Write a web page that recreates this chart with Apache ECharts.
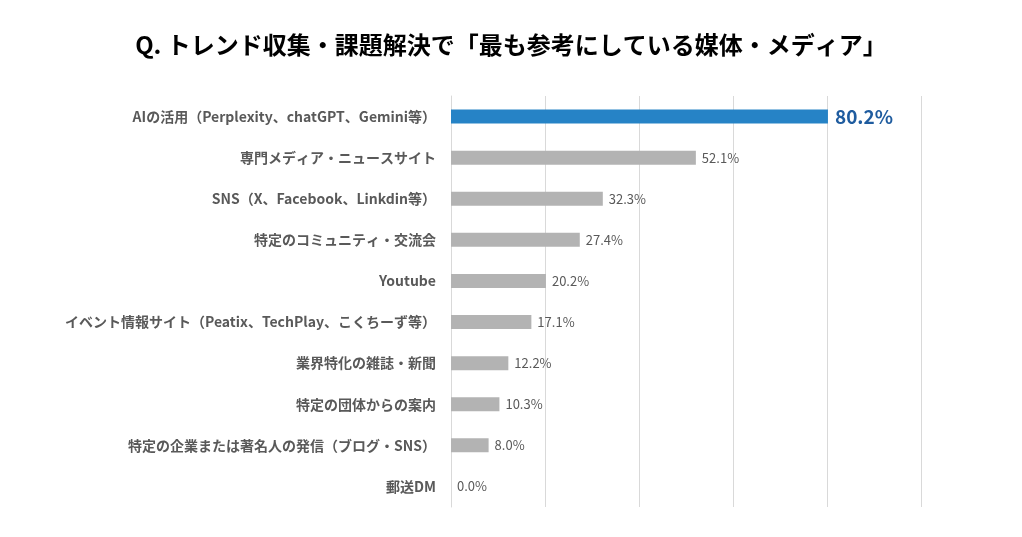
<!DOCTYPE html>
<html>
<head>
<meta charset="utf-8">
<script src="https://cdn.jsdelivr.net/npm/echarts@6/dist/echarts.min.js"></script>
<style>
	html, body { margin: 0; padding: 0; background: #fff; }
	#chart { width: 1022px; height: 537px; }
</style>
</head>
<body>
<div id="chart"></div>
<script type="text/javascript">
	// 項目名（上から順）
	var categories = [
		'AIの活用（Perplexity、chatGPT、Gemini等）',
		'専門メディア・ニュースサイト',
		'SNS（X、Facebook、Linkdin等）',
		'特定のコミュニティ・交流会',
		'Youtube',
		'イベント情報サイト（Peatix、TechPlay、こくちーず等）',
		'業界特化の雑誌・新聞',
		'特定の団体からの案内',
		'特定の企業または著名人の発信（ブログ・SNS）',
		'郵送DM'
	];
	// 割合（%）
	var values = [80.2, 52.1, 32.3, 27.4, 20.2, 17.1, 12.2, 10.3, 8.0, 0.0];
	// 強調する項目
	var highlightIndex = 0;

	var font = '"Noto Sans CJK JP", "Noto Sans", sans-serif';

	var seriesData = values.map(function (v, i) {
		if (i === highlightIndex) {
			return {
				value: v,
				itemStyle: { color: '#2683C6' },
				label: { fontSize: 19, fontWeight: 'bold', color: '#1F5C9F', distance: 7 }
			};
		}
		return v;
	});

	var myChart = echarts.init(document.getElementById('chart'));
	myChart.setOption({
		animation: false,
		title: {
			text: 'Q. トレンド収集・課題解決で「最も参考にしている媒体・メディア」',
			left: 'center',
			top: 28,
			textStyle: { fontFamily: font, fontSize: 24, fontWeight: 'bold', color: '#000' }
		},
		grid: { left: 451, right: 101, top: 96, bottom: 30 },
		xAxis: {
			type: 'value',
			min: 0,
			max: 100,
			interval: 20,
			axisLabel: { show: false },
			axisLine: { show: false },
			axisTick: { show: false },
			splitLine: { lineStyle: { color: '#D9D9D9', width: 1 } }
		},
		yAxis: {
			type: 'category',
			inverse: true,
			data: categories,
			axisLine: { lineStyle: { color: '#D9D9D9' } },
			axisTick: { length: 4, lineStyle: { color: '#D9D9D9' } },
			axisLabel: {
				margin: 15,
				fontFamily: font,
				fontSize: 14,
				fontWeight: 'bold',
				color: '#595959'
			}
		},
		series: [{
			type: 'bar',
			data: seriesData,
			barWidth: 14,
			itemStyle: { color: '#B3B3B3' },
			label: {
				show: true,
				position: 'right',
				distance: 6,
				fontFamily: font,
				fontSize: 13,
				color: '#595959',
				formatter: function (p) { return p.value.toFixed(1) + '%'; }
			}
		}]
	});
</script>
</body>
</html>
